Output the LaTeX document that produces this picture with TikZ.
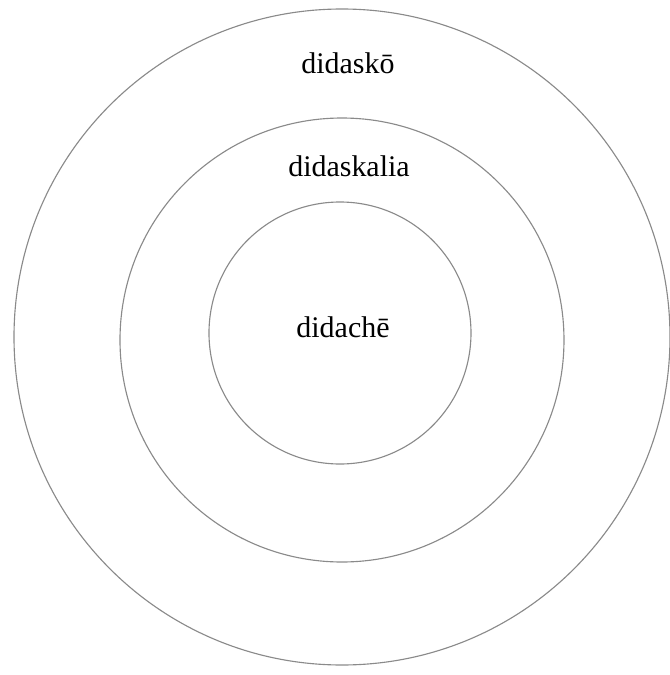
\documentclass[tikz,border=0pt]{standalone}
\usepackage{fontspec}
\setmainfont{Liberation Serif}
\usetikzlibrary{positioning}
\definecolor{RingGray}{HTML}{8A8A8A}

\begin{document}
\begin{tikzpicture}[
      ring/.style={circle,draw=RingGray,line width=0.8pt,inner sep=0pt},
      term/.style={anchor=base,inner sep=0pt,font=\fontsize{21.3}{25}\selectfont}
    ]
    \useasboundingbox (-8.55,-8.45) rectangle (8.2,8.425);
    % three nested circles
    \node[ring,minimum size=16.4cm] (outer) at (0,0) {};
    \node[ring,minimum size=11.1cm] (middle) at (0,-0.075) {};
    \node[ring,minimum size=6.55cm] (inner) at (-0.05,0.1) {};

    \node[term] (didasko) at (0.15,6.6) {didaskō};
    \node[term] (didaskalia) at (0.175,4.025) {didaskalia};
    \node[term] (didache) at (0.025,0) {didachē};
  \end{tikzpicture}
\end{document}
